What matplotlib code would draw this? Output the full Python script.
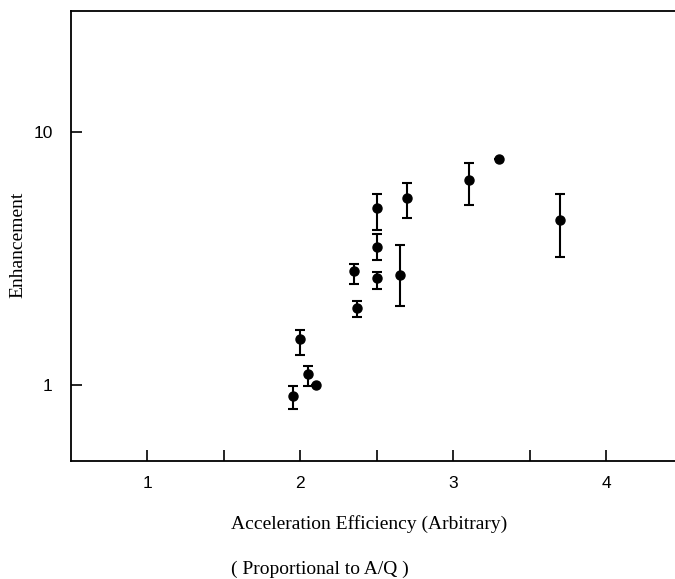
import matplotlib
matplotlib.use("Agg")
import matplotlib.pyplot as plt
from matplotlib.ticker import FixedLocator, NullLocator, NullFormatter, FixedFormatter

# values (error bars as lower/upper offsets)
efficiency = [1.95, 2.0, 2.05, 2.1, 2.35, 2.37, 2.5, 2.5, 2.5, 2.65, 2.7, 3.1, 3.3, 3.7]
enhancement = [0.90, 1.52, 1.10, 1.00, 2.82, 2.01, 4.98, 3.51, 2.63, 2.72, 5.45, 6.45, 7.78, 4.49]
err_low = [0.10, 0.21, 0.11, 0.0, 0.33, 0.16, 0.89, 0.41, 0.25, 0.68, 0.91, 1.32, 0.0, 1.29]
err_high = [0.09, 0.12, 0.09, 0.0, 0.17, 0.13, 0.71, 0.42, 0.16, 0.84, 0.84, 1.05, 0.0, 1.18]

x_ticks = [1, 2, 3, 4]
y_ticks = [1, 10]

tick_font = ["Liberation Sans Narrow", "Liberation Sans", "DejaVu Sans"]
label_font = ["Liberation Serif", "DejaVu Serif"]

fig = plt.figure(figsize=(6.75, 5.79), dpi=100)
ax = fig.add_axes([0.105, 0.204, 0.895, 0.777])

ax.errorbar(efficiency, enhancement, yerr=[err_low, err_high], fmt="o",
            color="black", markersize=6.5, elinewidth=1.5, capsize=3.5,
            capthick=1.5)

ax.set_yscale("log")
ax.set_xlim(0.5, 4.45)
ax.set_ylim(0.5, 30)

ax.xaxis.set_major_locator(FixedLocator(x_ticks))
ax.xaxis.set_minor_locator(FixedLocator([1.5, 2.5, 3.5]))
ax.yaxis.set_major_locator(FixedLocator(y_ticks))
ax.yaxis.set_major_formatter(FixedFormatter([str(t) for t in y_ticks]))
ax.yaxis.set_minor_locator(NullLocator())
ax.yaxis.set_minor_formatter(NullFormatter())

ax.tick_params(which="both", direction="in", length=8, width=1.2)
ax.tick_params(axis="y", pad=13)
ax.tick_params(axis="x", pad=11)
for lab in ax.get_xticklabels() + ax.get_yticklabels():
    lab.set_family(tick_font)
    lab.set_fontsize(12.5)

for side in ["left", "bottom", "top"]:
    ax.spines[side].set_linewidth(1.3)
ax.spines["right"].set_visible(False)

fig.text(0.026, 0.577, "Enhancement", rotation=90, ha="center", va="center",
         family=label_font, fontsize=14)
fig.text(0.342, 0.095, "Acceleration Efficiency (Arbitrary)", ha="left",
         va="center", family=label_font, fontsize=14)
fig.text(0.342, 0.016, "( Proportional to A/Q )", ha="left", va="center",
         family=label_font, fontsize=14)

fig.savefig("out.png", dpi=100)
